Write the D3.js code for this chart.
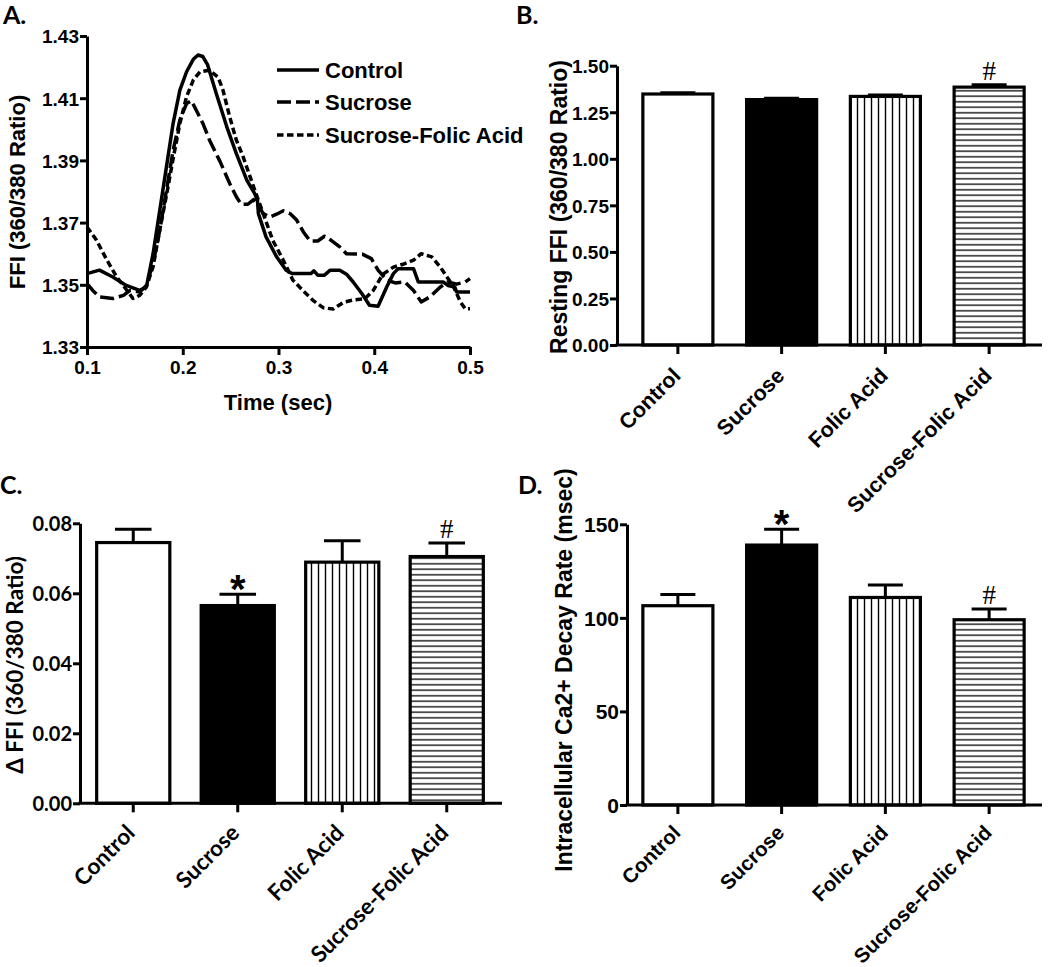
<!DOCTYPE html>
<html><head><meta charset="utf-8">
<script src="https://cdn.jsdelivr.net/npm/d3@7"></script>
<style>
body{margin:0;background:#fff;}
svg{display:block;}
</style></head><body>
<svg id="chart" width="1050" height="967"></svg>
<script>
// ---------- Panel A data ----------
const timeTicks = [0.1, 0.2, 0.3, 0.4, 0.5];
const ffiTicks = [1.33, 1.35, 1.37, 1.39, 1.41, 1.43];
const seriesNames = ["Control", "Sucrose", "Sucrose-Folic Acid"];
const controlTrace = [
  [0.100,1.3536],[0.113,1.3547],[0.127,1.3525],[0.141,1.3498],[0.155,1.3482],[0.162,1.3493],
  [0.169,1.3600],[0.176,1.3740],[0.183,1.3880],[0.190,1.4020],[0.197,1.4126],[0.204,1.4185],
  [0.211,1.4225],[0.216,1.4239],[0.221,1.4234],[0.226,1.4207],[0.235,1.4115],[0.246,1.4008],
  [0.256,1.3922],[0.267,1.3836],[0.275,1.3794],[0.278,1.3772],[0.279,1.3729],[0.287,1.3654],
  [0.298,1.3590],[0.308,1.3547],[0.314,1.3536],[0.334,1.3536],[0.337,1.3545],[0.341,1.3531],
  [0.348,1.3531],[0.354,1.3547],[0.364,1.3547],[0.371,1.3534],[0.378,1.3509],[0.387,1.3472],
  [0.395,1.3434],[0.404,1.3431],[0.413,1.3493],[0.420,1.3536],[0.425,1.3552],[0.441,1.3552],
  [0.446,1.3509],[0.472,1.3509],[0.477,1.3498],[0.484,1.3493],[0.486,1.3477],[0.500,1.3477]
];
const sucroseTrace = [
  [0.100,1.3504],[0.106,1.3482],[0.113,1.3461],[0.127,1.3456],[0.138,1.3466],[0.145,1.3482],
  [0.155,1.3477],[0.162,1.3498],[0.169,1.3568],[0.176,1.3676],[0.183,1.3804],[0.190,1.3933],
  [0.197,1.4030],[0.204,1.4083],[0.209,1.4092],[0.214,1.4062],[0.221,1.4019],[0.228,1.3965],
  [0.239,1.3896],[0.249,1.3826],[0.256,1.3783],[0.261,1.3759],[0.268,1.3759],[0.274,1.3774],
  [0.279,1.3756],[0.284,1.3729],[0.291,1.3718],[0.298,1.3727],[0.305,1.3738],[0.312,1.3729],
  [0.319,1.3708],[0.326,1.3670],[0.333,1.3641],[0.341,1.3641],[0.348,1.3656],[0.355,1.3643],
  [0.364,1.3622],[0.371,1.3600],[0.388,1.3598],[0.397,1.3584],[0.404,1.3547],[0.413,1.3515],
  [0.422,1.3506],[0.432,1.3509],[0.441,1.3482],[0.449,1.3445],[0.458,1.3461],[0.469,1.3493],
  [0.477,1.3509],[0.486,1.3502],[0.495,1.3509],[0.500,1.3520]
];
const sucroseFolicTrace = [
  [0.100,1.3686],[0.110,1.3643],[0.120,1.3584],[0.131,1.3525],[0.139,1.3493],[0.148,1.3456],
  [0.155,1.3466],[0.162,1.3493],[0.169,1.3558],[0.176,1.3676],[0.183,1.3788],[0.190,1.3906],
  [0.197,1.4019],[0.204,1.4105],[0.211,1.4158],[0.218,1.4185],[0.228,1.4190],[0.237,1.4167],
  [0.242,1.4126],[0.249,1.4040],[0.256,1.3965],[0.263,1.3912],[0.274,1.3815],[0.284,1.3729],
  [0.294,1.3643],[0.305,1.3579],[0.315,1.3515],[0.326,1.3480],[0.336,1.3450],[0.347,1.3426],
  [0.357,1.3422],[0.368,1.3444],[0.378,1.3451],[0.390,1.3455],[0.399,1.3482],[0.409,1.3534],
  [0.420,1.3557],[0.430,1.3566],[0.441,1.3579],[0.449,1.3600],[0.460,1.3590],[0.469,1.3557],
  [0.477,1.3520],[0.483,1.3493],[0.490,1.3445],[0.495,1.3423],[0.500,1.3423]
];

// ---------- Bar panel data ----------
const categories = ["Control", "Sucrose", "Folic Acid", "Sucrose-Folic Acid"];
const restingMean = [1.348, 1.318, 1.335, 1.385];
const restingErr = [0.007, 0.007, 0.007, 0.013];
const restingMarks = ["", "", "", "#"];
const restingTicks = [0, 0.25, 0.5, 0.75, 1.0, 1.25, 1.5];
const deltaMean = [0.0745, 0.0565, 0.0689, 0.0705];
const deltaErr = [0.0038, 0.0032, 0.0061, 0.0039];
const deltaMarks = ["", "*", "", "#"];
const deltaTicks = [0, 0.02, 0.04, 0.06, 0.08];
const decayMean = [106.5, 138.9, 110.9, 99.0];
const decayErr = [6.0, 8.5, 6.6, 5.7];
const decayMarks = ["", "*", "", "#"];
const decayTicks = [0, 50, 100, 150];

const ARIAL = "'Liberation Sans', Arial, sans-serif";
const CALI = "Lato, 'Open Sans', sans-serif";
const SERIF = "'Liberation Serif', 'Times New Roman', serif";

const svg = d3.select("#chart");
const defs = svg.append("defs");
// vertical stripes
const pv = defs.append("pattern").attr("id","vstripe").attr("patternUnits","userSpaceOnUse")
  .attr("width",7).attr("height",10);
pv.append("rect").attr("width",7).attr("height",10).attr("fill","#fff");
pv.append("line").attr("x1",3.5).attr("x2",3.5).attr("y1",0).attr("y2",10)
  .attr("stroke","#000").attr("stroke-width",1.4);
// horizontal stripes
const ph = defs.append("pattern").attr("id","hstripe").attr("patternUnits","userSpaceOnUse")
  .attr("width",10).attr("height",5.5);
ph.append("rect").attr("width",10).attr("height",5.5).attr("fill","#fff");
ph.append("line").attr("y1",2.75).attr("y2",2.75).attr("x1",0).attr("x2",10)
  .attr("stroke","#000").attr("stroke-width",1.3);

const fills = ["#fff", "#000", "url(#vstripe)", "url(#hstripe)"];

function styleAxis(g, font, size) {
  g.select(".domain").attr("stroke","#000").attr("stroke-width",3);
  g.selectAll(".tick line").attr("stroke","#000").attr("stroke-width",3);
  g.selectAll(".tick text").attr("fill","#000").style("font-family",font)
    .style("font-weight","bold").style("font-size",size+"px");
}

// ---------- Panel A ----------
(function(){
  const x = d3.scaleLinear().domain([0.1,0.5]).range([87,470]);
  const y = d3.scaleLinear().domain([1.33,1.43]).range([347,36]);
  const gx = svg.append("g").attr("transform","translate(0,347)")
    .call(d3.axisBottom(x).tickValues(timeTicks).tickFormat(d3.format(".1f")).tickSize(8).tickSizeOuter(0).tickPadding(6));
  styleAxis(gx, ARIAL, 19);
  const gy = svg.append("g").attr("transform","translate(87,0)")
    .call(d3.axisLeft(y).tickValues(ffiTicks).tickFormat(d3.format(".2f")).tickSize(7).tickSizeOuter(0).tickPadding(1));
  styleAxis(gy, ARIAL, 19);
  gy.selectAll(".tick text").attr("dy","0.36em");

  const line = d3.line().x(d=>x(d[0])).y(d=>y(d[1]));
  const traces = [controlTrace, sucroseTrace, sucroseFolicTrace];
  const dashes = [null, "14,5", "6.5,3.5"];
  traces.forEach((t,i)=>{
    svg.append("path").datum(t).attr("d",line).attr("fill","none")
      .attr("stroke","#000").attr("stroke-width",3.5).attr("stroke-linejoin","round")
      .attr("stroke-dasharray",dashes[i]);
  });
  // legend
  const ly = [70, 102, 135];
  seriesNames.forEach((n,i)=>{
    svg.append("line").attr("x1",277).attr("x2",319).attr("y1",ly[i]).attr("y2",ly[i])
      .attr("stroke","#000").attr("stroke-width",3.5).attr("stroke-dasharray",dashes[i]);
    svg.append("text").attr("x",325).attr("y",ly[i]+8).text(n)
      .style("font-family",ARIAL).style("font-weight","bold").style("font-size","22px");
  });
  svg.append("text").attr("x",278).attr("y",410).attr("text-anchor","middle").text("Time (sec)")
    .style("font-family",ARIAL).style("font-weight","bold").style("font-size","22px");
  svg.append("text").attr("transform","translate(25,192) rotate(-90)").attr("text-anchor","middle")
    .text("FFI (360/380 Ratio)")
    .style("font-family",ARIAL).style("font-weight","bold").style("font-size","22px");
})();

// ---------- Bar panels ----------
function barPanel(o){
  const x = d3.scaleBand().domain(categories).range(o.xr).paddingInner(o.pi).paddingOuter(o.pi/2);
  const y = d3.scaleLinear().domain(o.yd).range(o.yr);
  const bw = x.bandwidth();
  const g = svg.append("g");
  // bars
  g.selectAll("rect.bar").data(categories).enter().append("rect")
    .attr("x",d=>x(d)).attr("width",bw)
    .attr("y",(d,i)=>y(o.mean[i])).attr("height",(d,i)=>y(0)-y(o.mean[i]))
    .attr("fill",(d,i)=>fills[i]).attr("stroke","#000").attr("stroke-width",3.2);
  // error bars
  categories.forEach((c,i)=>{
    const cx = x(c)+bw/2, top = y(o.mean[i]+o.err[i]);
    g.append("line").attr("x1",cx).attr("x2",cx).attr("y1",y(o.mean[i])).attr("y2",top)
      .attr("stroke","#000").attr("stroke-width",3);
    g.append("line").attr("x1",cx-bw/4).attr("x2",cx+bw/4).attr("y1",top).attr("y2",top)
      .attr("stroke","#000").attr("stroke-width",3);
    if (o.marks[i]==="*") {
      g.append("text").attr("x",cx).attr("y",top+9).attr("text-anchor","middle").text("*")
        .style("font-family",ARIAL).style("font-weight","bold").style("font-size","40px");
    } else if (o.marks[i]==="#") {
      g.append("text").attr("x",cx).attr("y",top-5).attr("text-anchor","middle").text("#")
        .style("font-family",SERIF).style("font-size","27px");
    }
  });
  // y axis
  const gy = svg.append("g").attr("transform",`translate(${o.yAxisX},0)`)
    .call(d3.axisLeft(y).tickValues(o.ticks).tickFormat(o.fmt).tickSize(7).tickSizeOuter(0).tickPadding(1));
  styleAxis(gy, o.font, o.tickSize);
  gy.selectAll(".tick text").attr("dy","0.36em");
  // x axis
  const gx = svg.append("g").attr("transform",`translate(0,${y(0)})`)
    .call(d3.axisBottom(x).tickSize(9).tickSizeOuter(0).tickFormat(""));
  styleAxis(gx, o.font, o.catSize);
  gx.select(".domain").remove();
  svg.append("line").attr("x1",o.yAxisX-1.5).attr("x2",o.xEnd).attr("y1",y(0)).attr("y2",y(0))
    .attr("stroke","#000").attr("stroke-width",3);
  // category labels
  categories.forEach(c=>{
    svg.append("text").attr("transform",`translate(${x(c)+bw/2+o.lab[0]},${y(0)+o.lab[1]}) rotate(-45)`)
      .attr("text-anchor","end").text(c)
      .style("font-family",o.font).style("font-weight","bold").style("font-size",o.catSize+"px");
  });
  // y title
  svg.append("text").attr("transform",`translate(${o.title[0]},${o.title[1]}) rotate(-90)`)
    .attr("text-anchor","middle").text(o.titleText)
    .style("font-family",o.font).style("font-weight","bold").style("font-size",o.titleSize+"px");
}

barPanel({xr:[626,1041], pi:0.325, yd:[0,1.5], yr:[345,65.7], mean:restingMean, err:restingErr,
  marks:restingMarks, ticks:restingTicks, fmt:d3.format(".2f"), yAxisX:617, xEnd:1042,
  font:ARIAL, tickSize:19, catSize:21.5, lab:[4,32], title:[567,207],
  titleText:"Resting FFI (360/380 Ratio)", titleSize:23});

barPanel({xr:[81,499], pi:0.3, yd:[0,0.08], yr:[803.3,523.3], mean:deltaMean, err:deltaErr,
  marks:deltaMarks, ticks:deltaTicks, fmt:d3.format(".2f"), yAxisX:80, xEnd:502,
  font:CALI, tickSize:20, catSize:22.5, lab:[3,31], title:[23,665],
  titleText:"\u0394 FFI (360/380 Ratio)", titleSize:22.5});

barPanel({xr:[626,1041], pi:0.325, yd:[0,150], yr:[805,524.3], mean:decayMean, err:decayErr,
  marks:decayMarks, ticks:decayTicks, fmt:d3.format("d"), yAxisX:627, xEnd:1042,
  font:ARIAL, tickSize:21, catSize:20.5, lab:[4,29], title:[572,670],
  titleText:"Intracellular Ca2+ Decay Rate (msec)", titleSize:23});

// panel letters
[["A.",3,24],["B.",516,24],["C.",0,494],["D.",518,494]].forEach(p=>{
  svg.append("text").attr("x",p[1]).attr("y",p[2]).text(p[0])
    .style("font-family",CALI).style("font-weight","bold").style("font-size","25px");
});
</script>
</body></html>
